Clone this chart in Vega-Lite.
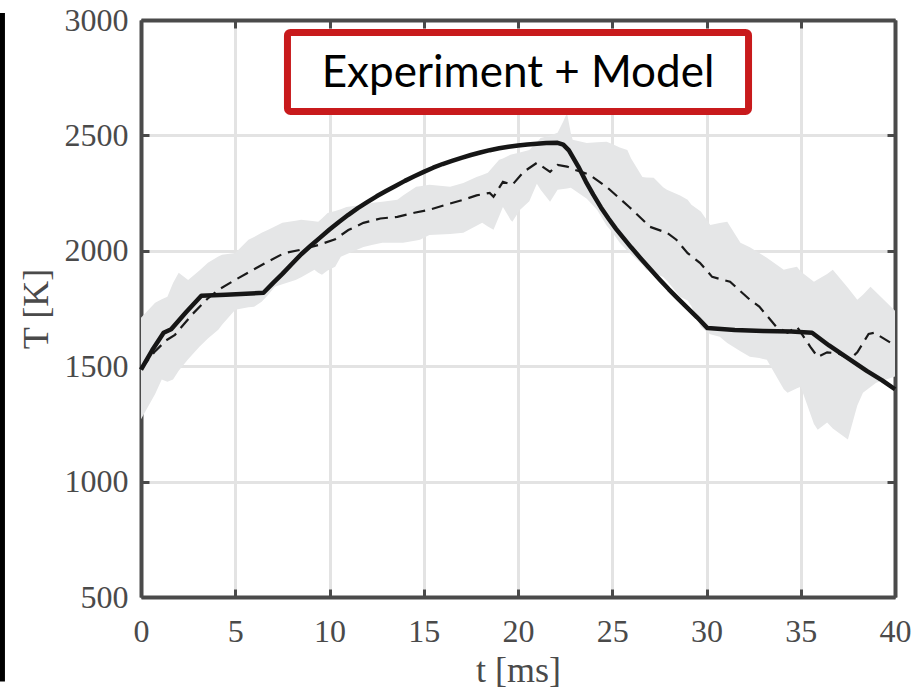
{
  "$schema": "https://vega.github.io/schema/vega-lite/v6.json",
  "width": 754,
  "height": 577,
  "autosize": {"type": "none"},
  "padding": {"left": 141, "top": 20, "right": 20, "bottom": 94},
  "background": "white",
  "config": {
    "view": {"stroke": null},
    "axis": {
      "domainColor": "#4a4a4a",
      "domainWidth": 4,
      "tickColor": "#4a4a4a",
      "tickWidth": 3,
      "tickSize": -8,
      "gridColor": "#e3e3e3",
      "gridWidth": 3,
      "labelFont": "Liberation Serif",
      "labelFontSize": 32,
      "labelColor": "#4a4a4a",
      "labelFlush": false,
      "labelOverlap": false,
      "format": "d",
      "titleFont": "Liberation Serif",
      "titleFontSize": 36,
      "titleFontWeight": "normal",
      "titleColor": "#4a4a4a"
    }
  },
  "datasets": {
    "band": [
      {"t": 0, "lo": 1270, "hi": 1710},
      {"t": 0.75, "lo": 1380, "hi": 1775},
      {"t": 1.1, "lo": 1442, "hi": 1790},
      {"t": 1.4, "lo": 1433, "hi": 1801},
      {"t": 1.7, "lo": 1442, "hi": 1860},
      {"t": 2.0, "lo": 1480, "hi": 1905},
      {"t": 2.5, "lo": 1530, "hi": 1874},
      {"t": 3.1, "lo": 1584, "hi": 1915},
      {"t": 3.55, "lo": 1620, "hi": 1948},
      {"t": 4.1, "lo": 1658, "hi": 1975},
      {"t": 4.3, "lo": 1680, "hi": 1983},
      {"t": 5.0, "lo": 1745, "hi": 1991},
      {"t": 5.7, "lo": 1755, "hi": 2048},
      {"t": 6.0, "lo": 1758, "hi": 2060},
      {"t": 6.4, "lo": 1779, "hi": 2078},
      {"t": 6.75, "lo": 1810, "hi": 2091},
      {"t": 7.1, "lo": 1844, "hi": 2105},
      {"t": 7.5, "lo": 1855, "hi": 2121},
      {"t": 8.2, "lo": 1874, "hi": 2130},
      {"t": 8.5, "lo": 1885, "hi": 2134},
      {"t": 9.2, "lo": 1918, "hi": 2128},
      {"t": 9.4, "lo": 1905, "hi": 2126},
      {"t": 9.6, "lo": 1896, "hi": 2140},
      {"t": 9.9, "lo": 1915, "hi": 2164},
      {"t": 10.3, "lo": 1931, "hi": 2172},
      {"t": 10.6, "lo": 1974, "hi": 2180},
      {"t": 10.9, "lo": 1985, "hi": 2190},
      {"t": 11.8, "lo": 2017, "hi": 2200},
      {"t": 12.3, "lo": 2026, "hi": 2208},
      {"t": 12.8, "lo": 2035, "hi": 2212},
      {"t": 13.6, "lo": 2035, "hi": 2221},
      {"t": 13.9, "lo": 2035, "hi": 2240},
      {"t": 14.6, "lo": 2045, "hi": 2277},
      {"t": 14.8, "lo": 2048, "hi": 2280},
      {"t": 15.3, "lo": 2069, "hi": 2286},
      {"t": 16.4, "lo": 2073, "hi": 2277},
      {"t": 17.1, "lo": 2078, "hi": 2294},
      {"t": 17.8, "lo": 2108, "hi": 2320},
      {"t": 18.1, "lo": 2121, "hi": 2328},
      {"t": 18.4, "lo": 2105, "hi": 2338},
      {"t": 18.7, "lo": 2091, "hi": 2366},
      {"t": 19.0, "lo": 2150, "hi": 2394},
      {"t": 19.2, "lo": 2190, "hi": 2400},
      {"t": 19.6, "lo": 2135, "hi": 2416},
      {"t": 19.7, "lo": 2126, "hi": 2418},
      {"t": 20.1, "lo": 2177, "hi": 2426},
      {"t": 20.6, "lo": 2215, "hi": 2437},
      {"t": 21.0, "lo": 2290, "hi": 2470},
      {"t": 21.2, "lo": 2265, "hi": 2489},
      {"t": 21.7, "lo": 2212, "hi": 2500},
      {"t": 22.1, "lo": 2264, "hi": 2511},
      {"t": 22.4, "lo": 2268, "hi": 2560},
      {"t": 22.6, "lo": 2270, "hi": 2597},
      {"t": 22.8, "lo": 2273, "hi": 2510},
      {"t": 22.9, "lo": 2268, "hi": 2481},
      {"t": 23.65, "lo": 2225, "hi": 2467},
      {"t": 24.2, "lo": 2177, "hi": 2470},
      {"t": 24.7, "lo": 2110, "hi": 2472},
      {"t": 25.0, "lo": 2080, "hi": 2463},
      {"t": 25.4, "lo": 2035, "hi": 2448},
      {"t": 25.8, "lo": 2000, "hi": 2437},
      {"t": 26.0, "lo": 1985, "hi": 2400},
      {"t": 26.6, "lo": 1940, "hi": 2320},
      {"t": 26.8, "lo": 1918, "hi": 2318},
      {"t": 27.2, "lo": 1905, "hi": 2316},
      {"t": 27.7, "lo": 1887, "hi": 2275},
      {"t": 27.9, "lo": 1870, "hi": 2264},
      {"t": 28.6, "lo": 1801, "hi": 2240},
      {"t": 29.0, "lo": 1785, "hi": 2221},
      {"t": 29.2, "lo": 1760, "hi": 2200},
      {"t": 29.7, "lo": 1670, "hi": 2170},
      {"t": 30.2, "lo": 1638, "hi": 2112},
      {"t": 30.7, "lo": 1628, "hi": 2120},
      {"t": 31.1, "lo": 1600, "hi": 2126},
      {"t": 31.8, "lo": 1565, "hi": 2035},
      {"t": 32.3, "lo": 1541, "hi": 2015},
      {"t": 32.8, "lo": 1535, "hi": 1991},
      {"t": 33.2, "lo": 1528, "hi": 1970},
      {"t": 34.1, "lo": 1400, "hi": 1918},
      {"t": 34.3, "lo": 1385, "hi": 1922},
      {"t": 34.8, "lo": 1405, "hi": 1931},
      {"t": 35.0, "lo": 1411, "hi": 1910},
      {"t": 35.7, "lo": 1250, "hi": 1866},
      {"t": 35.9, "lo": 1225, "hi": 1876},
      {"t": 36.4, "lo": 1256, "hi": 1900},
      {"t": 36.7, "lo": 1230, "hi": 1918},
      {"t": 37.5, "lo": 1182, "hi": 1840},
      {"t": 38.0, "lo": 1330, "hi": 1788},
      {"t": 38.3, "lo": 1385, "hi": 1810},
      {"t": 38.7, "lo": 1410, "hi": 1844},
      {"t": 39.0, "lo": 1428, "hi": 1820},
      {"t": 40.0, "lo": 1455, "hi": 1740}
    ],
    "exp": [
      {"t": 0, "T": 1490}, {"t": 0.7, "T": 1560}, {"t": 1.3, "T": 1610},
      {"t": 1.8, "T": 1636}, {"t": 2.7, "T": 1723}, {"t": 3.5, "T": 1790},
      {"t": 4.1, "T": 1831}, {"t": 5.0, "T": 1874}, {"t": 6.0, "T": 1920},
      {"t": 6.7, "T": 1952}, {"t": 7.6, "T": 1990}, {"t": 8.5, "T": 2005},
      {"t": 9.4, "T": 2025}, {"t": 10.3, "T": 2050}, {"t": 11.0, "T": 2090},
      {"t": 11.8, "T": 2121}, {"t": 12.7, "T": 2140}, {"t": 13.6, "T": 2147},
      {"t": 14.5, "T": 2165}, {"t": 15.3, "T": 2178}, {"t": 16.2, "T": 2200},
      {"t": 17.1, "T": 2221}, {"t": 17.8, "T": 2240}, {"t": 18.5, "T": 2251},
      {"t": 18.7, "T": 2234}, {"t": 19.2, "T": 2299}, {"t": 19.7, "T": 2286},
      {"t": 20.3, "T": 2342}, {"t": 21.0, "T": 2381}, {"t": 21.7, "T": 2342},
      {"t": 22.1, "T": 2372}, {"t": 22.6, "T": 2365}, {"t": 23.0, "T": 2351},
      {"t": 23.5, "T": 2338}, {"t": 23.8, "T": 2329}, {"t": 24.7, "T": 2277},
      {"t": 25.9, "T": 2190}, {"t": 27.0, "T": 2104}, {"t": 27.9, "T": 2078},
      {"t": 28.4, "T": 2048}, {"t": 29.0, "T": 1990}, {"t": 29.65, "T": 1948},
      {"t": 30.3, "T": 1887}, {"t": 31.25, "T": 1866}, {"t": 32.3, "T": 1788},
      {"t": 32.8, "T": 1758}, {"t": 33.7, "T": 1671}, {"t": 34.3, "T": 1645},
      {"t": 34.8, "T": 1671}, {"t": 35.5, "T": 1585}, {"t": 35.9, "T": 1540},
      {"t": 36.4, "T": 1560}, {"t": 37.0, "T": 1555}, {"t": 37.6, "T": 1530},
      {"t": 38.0, "T": 1560}, {"t": 38.6, "T": 1640}, {"t": 38.9, "T": 1645},
      {"t": 40.0, "T": 1590}
    ],
    "model": [
      {"t": 0, "T": 1485}, {"t": 0.6, "T": 1570}, {"t": 1.2, "T": 1645},
      {"t": 1.6, "T": 1660}, {"t": 2.4, "T": 1735}, {"t": 3.2, "T": 1805},
      {"t": 4.5, "T": 1810}, {"t": 6.5, "T": 1818}, {"t": 7.0, "T": 1860},
      {"t": 7.5, "T": 1900}, {"t": 8.0, "T": 1943}, {"t": 8.5, "T": 1985},
      {"t": 9.0, "T": 2022}, {"t": 9.5, "T": 2057}, {"t": 10.0, "T": 2092},
      {"t": 10.5, "T": 2125}, {"t": 11.0, "T": 2156}, {"t": 11.5, "T": 2185},
      {"t": 12.0, "T": 2211}, {"t": 12.5, "T": 2236}, {"t": 13.0, "T": 2259},
      {"t": 13.5, "T": 2281}, {"t": 14.0, "T": 2303}, {"t": 14.5, "T": 2323},
      {"t": 15.0, "T": 2342}, {"t": 15.5, "T": 2360}, {"t": 16.0, "T": 2376},
      {"t": 16.5, "T": 2390}, {"t": 17.0, "T": 2403}, {"t": 17.5, "T": 2415},
      {"t": 18.0, "T": 2426}, {"t": 18.5, "T": 2436}, {"t": 19.0, "T": 2444},
      {"t": 19.5, "T": 2451}, {"t": 20.0, "T": 2456}, {"t": 20.5, "T": 2461},
      {"t": 21.0, "T": 2464}, {"t": 21.5, "T": 2467}, {"t": 22.1, "T": 2468},
      {"t": 22.4, "T": 2460}, {"t": 22.7, "T": 2435}, {"t": 23.2, "T": 2365},
      {"t": 23.6, "T": 2300}, {"t": 24.0, "T": 2242}, {"t": 24.4, "T": 2188},
      {"t": 24.8, "T": 2140}, {"t": 25.2, "T": 2095}, {"t": 25.6, "T": 2055},
      {"t": 26.0, "T": 2015}, {"t": 26.5, "T": 1968}, {"t": 27.0, "T": 1922},
      {"t": 27.5, "T": 1877}, {"t": 28.0, "T": 1833}, {"t": 28.5, "T": 1792},
      {"t": 29.0, "T": 1752}, {"t": 29.5, "T": 1712}, {"t": 30.05, "T": 1665},
      {"t": 31.5, "T": 1657}, {"t": 33.0, "T": 1653}, {"t": 34.5, "T": 1650},
      {"t": 35.6, "T": 1645}, {"t": 36.5, "T": 1590}, {"t": 37.5, "T": 1535},
      {"t": 38.5, "T": 1480}, {"t": 39.3, "T": 1440}, {"t": 40.0, "T": 1400}
    ],
    "box": [
      {"t0": 7.77, "t1": 32.23, "T0": 2946, "T1": 2604, "tc": 20, "Tc": 2710, "label": "Experiment + Model"}
    ],
    "bar": [
      {"t": -7.35, "T0": 3030, "T1": 134}
    ]
  },
  "layer": [
    {
      "data": {"name": "band"},
      "mark": {"type": "area", "color": "#e5e6e7"},
      "encoding": {
        "x": {
          "field": "t", "type": "quantitative",
          "scale": {"domain": [0, 40], "nice": false, "zero": false},
          "axis": {"orient": "bottom", "values": [0, 5, 10, 15, 20, 25, 30, 35, 40], "title": "t [ms]", "labelPadding": 27, "titlePadding": 6}
        },
        "y": {
          "field": "lo", "type": "quantitative",
          "scale": {"domain": [500, 3000], "nice": false, "zero": false},
          "axis": {"orient": "left", "values": [500, 1000, 1500, 2000, 2500, 3000], "title": "T [K]", "labelPadding": 21, "titlePadding": 9}
        },
        "y2": {"field": "hi"}
      }
    },
    {
      "data": {"name": "exp"},
      "mark": {"type": "line", "color": "#1a1a1a", "strokeWidth": 2.2, "strokeDash": [12, 7]},
      "encoding": {
        "x": {
          "field": "t", "type": "quantitative",
          "scale": {"domain": [0, 40], "nice": false, "zero": false},
          "axis": {"orient": "top", "values": [0, 5, 10, 15, 20, 25, 30, 35, 40], "labels": false, "title": null, "grid": false}
        },
        "y": {
          "field": "T", "type": "quantitative",
          "scale": {"domain": [500, 3000], "nice": false, "zero": false},
          "axis": {"orient": "right", "values": [500, 1000, 1500, 2000, 2500, 3000], "labels": false, "title": null, "grid": false}
        }
      }
    },
    {
      "data": {"name": "model"},
      "mark": {"type": "line", "color": "#161616", "strokeWidth": 4.5, "strokeJoin": "round"},
      "encoding": {
        "x": {"field": "t", "type": "quantitative", "scale": {"domain": [0, 40], "nice": false, "zero": false}, "axis": null},
        "y": {"field": "T", "type": "quantitative", "scale": {"domain": [500, 3000], "nice": false, "zero": false}, "axis": null}
      }
    },
    {
      "data": {"name": "box"},
      "mark": {"type": "rect", "fill": "white", "stroke": "#c81a1c", "strokeWidth": 7, "cornerRadius": 3},
      "encoding": {
        "x": {"field": "t0", "type": "quantitative", "scale": {"domain": [0, 40], "nice": false, "zero": false}, "axis": null},
        "x2": {"field": "t1"},
        "y": {"field": "T0", "type": "quantitative", "scale": {"domain": [500, 3000], "nice": false, "zero": false}, "axis": null},
        "y2": {"field": "T1"}
      }
    },
    {
      "data": {"name": "box"},
      "mark": {"type": "text", "font": "Lato", "fontSize": 44, "color": "black", "align": "center", "baseline": "alphabetic"},
      "encoding": {
        "x": {"field": "tc", "type": "quantitative", "scale": {"domain": [0, 40], "nice": false, "zero": false}, "axis": null},
        "y": {"field": "Tc", "type": "quantitative", "scale": {"domain": [500, 3000], "nice": false, "zero": false}, "axis": null},
        "text": {"field": "label"}
      }
    },
    {
      "data": {"name": "bar"},
      "mark": {"type": "rule", "color": "black", "strokeWidth": 5},
      "encoding": {
        "x": {"field": "t", "type": "quantitative", "scale": {"domain": [0, 40], "nice": false, "zero": false}, "axis": null},
        "y": {"field": "T0", "type": "quantitative", "scale": {"domain": [500, 3000], "nice": false, "zero": false}, "axis": null},
        "y2": {"field": "T1"}
      }
    }
  ],
  "resolve": {"axis": {"x": "independent", "y": "independent"}}
}
